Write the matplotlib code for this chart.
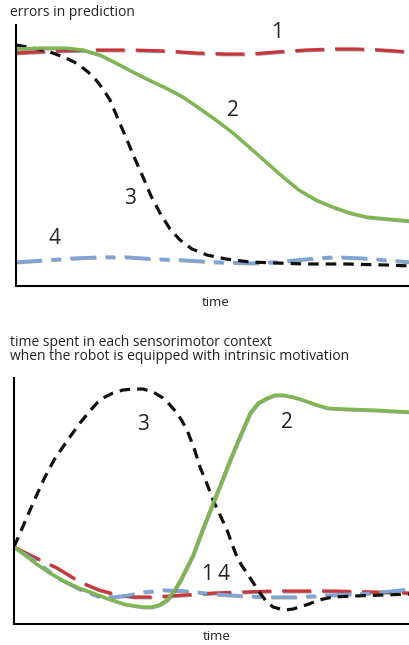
import matplotlib
matplotlib.use("Agg")
import matplotlib.pyplot as plt
import matplotlib.patheffects as pe

plt.rcParams['font.family'] = ['Open Sans', 'DejaVu Sans']

# top panel: errors in prediction (x = time, y = error, arbitrary units)
top_x1 = [0, 40, 80, 117, 150, 180, 210, 235, 260, 290, 317, 340, 365, 394]
top_y1 = [233, 235, 236, 236, 235, 233, 232, 232, 234, 236, 237, 237, 236, 234]
top_x2 = [0, 25, 50, 67, 84, 100, 117, 133, 150, 167, 183, 200, 217, 233, 250, 267, 283, 300, 317, 334, 351, 372, 394]
top_y2 = [237, 238, 238, 236, 231, 223, 214, 206, 198, 189, 178, 166, 153, 139, 124, 109, 96, 86, 79, 73, 69, 67, 65]
top_x3 = [0, 17, 34, 50, 62, 72, 80, 87, 94, 102, 111, 119, 127, 135, 144, 154, 164, 176, 191, 210, 234, 260, 290, 330, 370, 394]
top_y3 = [241, 238, 234, 228, 222, 214, 206, 197, 186, 167, 146, 127, 109, 90, 73, 57, 46, 37, 31, 27, 24, 23, 22, 22, 21, 20]
top_x4 = [0, 30, 60, 84, 110, 140, 167, 200, 234, 260, 290, 317, 345, 370, 394]
top_y4 = [24, 26, 28, 29, 29, 27, 26, 24, 23, 24, 27, 29, 28, 26, 24]

# bottom panel: time spent in each context
bot_x3 = [0, 10, 20, 30, 40, 53, 66, 75, 83, 91, 99, 109, 119, 129, 139, 149, 156, 163, 168, 173, 180, 186, 193, 199,
          206, 213, 218, 223, 228, 233, 240, 246, 252, 259, 266, 272, 279, 286, 295, 305, 319, 340, 370, 396]
bot_y3 = [77, 100, 123, 145, 164, 183, 201, 212, 221, 227, 231, 234, 235, 235, 232, 226, 219, 211, 203, 194, 176, 157, 140, 124,
          109, 94, 80, 67, 58, 51, 40, 31, 23, 17, 15, 14, 15, 17, 20, 24, 27, 28, 29, 30]
bot_x2 = [0, 12, 24, 36, 50, 65, 79, 95, 110, 122, 129, 137, 145, 153, 160, 167, 173, 179, 186, 193, 199, 207, 216, 226,
          236, 244, 253, 261, 269, 279, 289, 300, 313, 330, 360, 396]
bot_y2 = [77, 68, 59, 51, 43, 36, 31, 25, 20, 18, 17, 17, 19, 24, 33, 45, 57, 69, 88, 106, 121, 141, 164, 188,
          211, 221, 226, 229, 229, 227, 224, 220, 216, 215, 214, 212]
bot_x1 = [0, 20, 43, 66, 85, 100, 119, 140, 170, 200, 230, 260, 290, 319, 360, 396]
bot_y1 = [77, 67, 56, 42, 34, 30, 27, 27, 29, 31, 32, 33, 33, 33, 32, 31]
bot_x4 = [0, 20, 46, 65, 83, 100, 115, 130, 150, 173, 200, 230, 253, 280, 319, 360, 396]
bot_y4 = [77, 64, 45, 35, 28, 27, 29, 32, 34, 33, 30, 28, 27, 27, 29, 31, 35]

red = '#c8353a'
green = '#7cb84e'
blue = '#7ea4d8'
black = '#111111'
txt = '#222222'

shadow = [pe.SimpleLineShadow(offset=(0.6, -0.6), shadow_color='#777777', alpha=0.7), pe.Normal()]

fig = plt.figure(figsize=(4.1, 6.45), dpi=100)
W, H = 410.0, 645.0

ax1 = fig.add_axes([16 / W, 1 - 286 / H, (410 - 16) / W, (286 - 25) / H])
ax2 = fig.add_axes([14 / W, 1 - 624 / H, (410 - 14) / W, (624 - 378) / H])

lw = 2.3
ax1.plot(top_x1, top_y1, color=red, lw=lw, dashes=(9, 3.5), path_effects=shadow)
ax1.plot(top_x4, top_y4, color=blue, lw=lw, dashes=(8, 3, 3, 3), path_effects=shadow)
ax1.plot(top_x3, top_y3, color=black, lw=lw, dashes=(3.3, 2.2))
ax1.plot(top_x2, top_y2, color=green, lw=lw, path_effects=shadow)
ax1.set_xlim(0, 394)
ax1.set_ylim(0, 261)

ax2.plot(bot_x1, bot_y1, color=red, lw=lw, dashes=(9, 3.5), path_effects=shadow)
ax2.plot(bot_x4, bot_y4, color=blue, lw=lw, dashes=(8, 3, 3, 3), path_effects=shadow)
ax2.plot(bot_x3, bot_y3, color=black, lw=lw, dashes=(3.3, 2.2))
ax2.plot(bot_x2, bot_y2, color=green, lw=lw, path_effects=shadow)
ax2.set_xlim(0, 396)
ax2.set_ylim(0, 246)

for ax in (ax1, ax2):
    ax.spines['top'].set_visible(False)
    ax.spines['right'].set_visible(False)
    ax.spines['left'].set_linewidth(1.5)
    ax.spines['bottom'].set_linewidth(1.5)
    ax.set_xticks([])
    ax.set_yticks([])

num = dict(fontsize=15, color=txt, ha='center', va='center')
ax1.text(261, 253, '1', **num)
ax1.text(217, 176, '2', **num)
ax1.text(114, 88, '3', **num)
ax1.text(39, 48, '4', **num)
ax2.text(129, 199, '3', **num)
ax2.text(273, 201, '2', **num)
ax2.text(193, 49, '1', **num)
ax2.text(210, 49, '4', **num)

fig.text(10 / W, 1 - 12 / H, 'errors in prediction', fontsize=10, va='center', color=txt)
fig.text(10 / W, 1 - 343 / H, 'time spent in each sensorimotor context', fontsize=10, va='center', color=txt)
fig.text(10 / W, 1 - 357 / H, 'when the robot is equipped with intrinsic motivation', fontsize=10, va='center', color=txt)
fig.text(216 / W, 1 - 302 / H, 'time', fontsize=9.5, ha='center', va='center', color=txt)
fig.text(217 / W, 1 - 637 / H, 'time', fontsize=9.5, ha='center', va='center', color=txt)

fig.savefig('out.png', dpi=100)
